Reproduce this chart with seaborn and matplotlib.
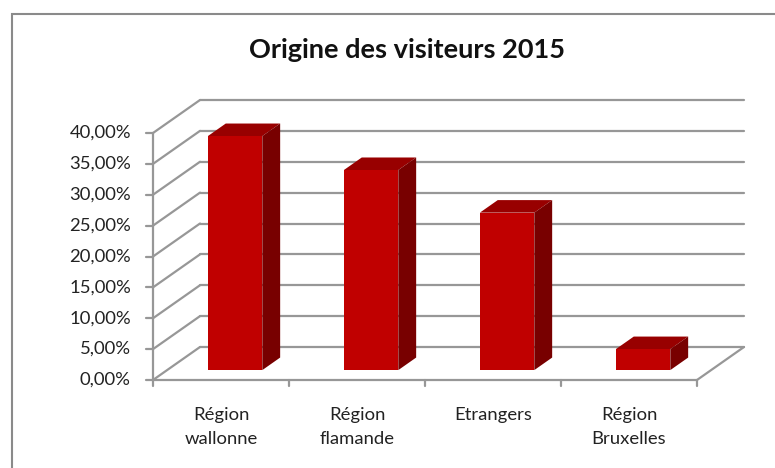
import numpy as np
import matplotlib
matplotlib.use("Agg")
import matplotlib.pyplot as plt
import seaborn as sns
from matplotlib.patches import Polygon, Rectangle

# Données
categories = ["Région\nwallonne", "Région\nflamande", "Etrangers", "Région\nBruxelles"]
valeurs = [37.9, 32.4, 25.5, 3.4]
ticks = [0, 5, 10, 15, 20, 25, 30, 35, 40]
tick_labels = ["0,00%", "5,00%", "10,00%", "15,00%", "20,00%", "25,00%", "30,00%", "35,00%", "40,00%"]
titre = "Origine des visiteurs 2015"

sns.set_style("white")
plt.rcParams["font.family"] = ["Lato", "DejaVu Sans"]

W, H = 775, 468
fig = plt.figure(figsize=(W / 100, H / 100), dpi=100)
ax = fig.add_axes([0, 0, 1, 1])

# Couleurs façon Excel 3D
FACE = "#C00000"
TOP = "#980000"
SIDE = "#780000"
GRID = "#979797"

sns.barplot(x=categories, y=valeurs, ax=ax, color=FACE, width=0.4,
            saturation=1, edgecolor="none", zorder=5)

# échelle : 136 px par catégorie, 6.175 px par point de %
px_x, px_y = 136.0, 247.0 / 40
x0_px, y0_px = 153, H - 380
ax.set_xlim(-0.5 - x0_px / px_x, -0.5 - x0_px / px_x + W / px_x)
ax.set_ylim(-y0_px / px_y, -y0_px / px_y + H / px_y)
ax.axis("off")

# profondeur de la perspective oblique
DX, DY = 47 / px_x, 33 / px_y
f0, d = 0.3, 0.38
n = len(categories)
xl, xr = -0.5, n - 0.5
ymax = ticks[-1]

# murs : grille du fond et du côté
for t in ticks:
    ax.plot([xl + DX, xr + DX], [t + DY, t + DY], color=GRID, lw=1.6, zorder=1)
    ax.plot([xl, xl + DX], [t, t + DY], color=GRID, lw=1.6, zorder=1)
# sol
ax.plot([xr, xr + DX], [0, DY], color=GRID, lw=1.6, zorder=1)
ax.plot([xl, xr], [0, 0], color=GRID, lw=1.6, zorder=6)
ax.plot([xl, xl], [0, ymax], color=GRID, lw=1.6, zorder=6)

# graduations
for t, lab in zip(ticks, tick_labels):
    ax.plot([xl - 7 / px_x, xl], [t, t], color=GRID, lw=1.6, zorder=6)
    ax.text(xl - 22 / px_x, t, lab, ha="right", va="center", fontsize=13.3, color="#222222")
for i in range(n + 1):
    ax.plot([xl + i, xl + i], [0, -6 / px_y], color=GRID, lw=1.6, zorder=6)
for i, c in enumerate(categories):
    ax.text(i, -27 / px_y, c, ha="center", va="top", fontsize=13.3,
            color="#222222", linespacing=1.6)

# barres 3D : déplacer la face avant et ajouter dessus + côté
for p in ax.patches:
    bx = p.get_x() + f0 * DX
    by = f0 * DY
    w, h = p.get_width(), p.get_height()
    p.set_x(bx)
    p.set_y(by)
    top = [(bx, by + h), (bx + w, by + h), (bx + w + d * DX, by + h + d * DY),
           (bx + d * DX, by + h + d * DY)]
    side = [(bx + w, by), (bx + w + d * DX, by + d * DY),
            (bx + w + d * DX, by + h + d * DY), (bx + w, by + h)]
    ax.add_patch(Polygon(top, closed=True, facecolor=TOP, edgecolor="none", zorder=4))
    ax.add_patch(Polygon(side, closed=True, facecolor=SIDE, edgecolor="none", zorder=4))

# titre et cadre
fig.text(407 / W, 1 - 50 / H, titre, ha="center", va="center",
         fontsize=19.5, fontweight="bold", color="#111111")
fig.patches.append(Rectangle((12 / W, -0.1), 1.2, 1 - 14 / H + 0.1,
                             transform=fig.transFigure, fill=False,
                             edgecolor="#8A8A8A", lw=1.5))

fig.savefig("out.png", dpi=100)
